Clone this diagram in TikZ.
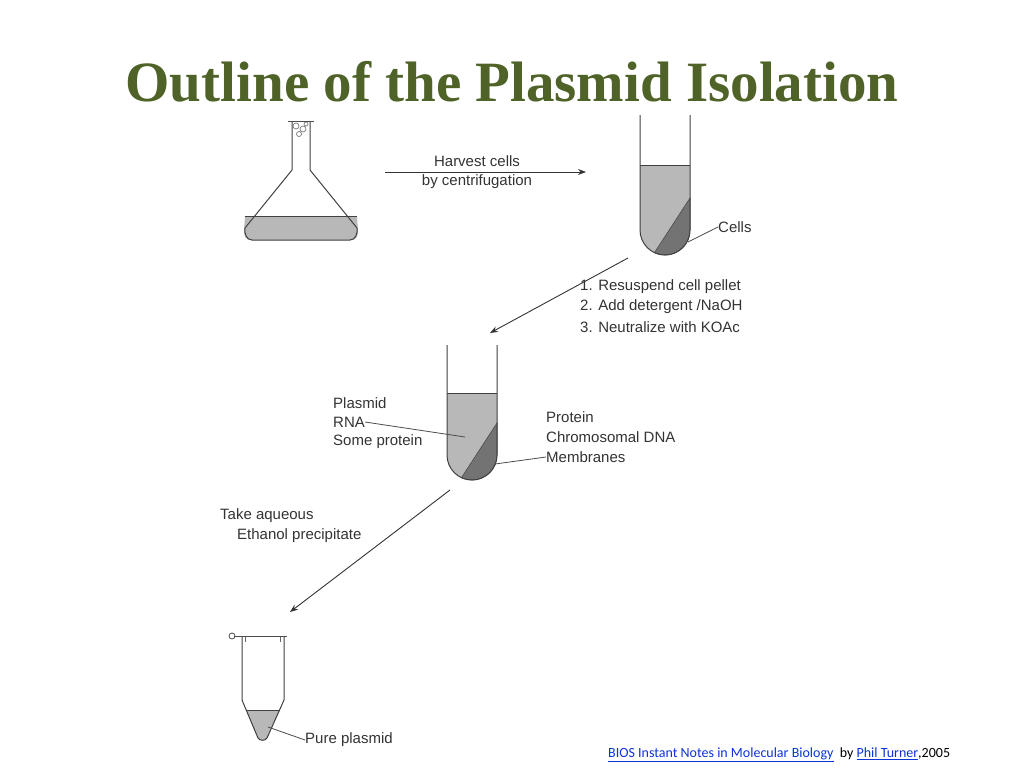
\documentclass[tikz,border=0pt]{standalone}
\usepackage{fontspec}
\usetikzlibrary{arrows.meta}
\setmainfont{Liberation Serif}
\newfontfamily\lab{Liberation Sans}
\newfontfamily\foot{Carlito}
\begin{document}
\begin{tikzpicture}[x=1pt,y=-1pt,
  lbl/.style={font=\lab\fontsize{15}{17}\selectfont,text=black!80,inner sep=0pt},
  arr/.style={draw=black!80,line width=0.9pt,-{Stealth[length=8pt,width=6pt]}},
  glass/.style={draw=black!75,line width=1pt},
  liq/.style={fill=black!28},
  pel/.style={fill=black!55,draw=black!70,line width=0.6pt},
  lead/.style={draw=black!70,line width=0.8pt}]
\useasboundingbox (0,0) rectangle (1024,768);
\node[font=\bfseries\fontsize{57}{66}\selectfont,text={rgb,255:red,79;green,98;blue,40}] (title) at (512,82) {Outline of the Plasmid Isolation};
% flask
\fill[liq] (245,216) -- (357,216) -- (358,232) to[out=-90,in=0] (352,240) -- (250,240) to[out=180,in=-90] (244,232) -- cycle;
\draw[glass] (292,122) -- (292,170) -- (245,228) to[out=-100,in=180] (252,240) -- (350,240) to[out=0,in=-80] (357,228) -- (310,170) -- (310,122);
\draw[glass] (245,216) -- (357,216);
\draw[black!70] (288,121) -- (314,121);
\draw[black!60,line width=0.6pt] (296,126) circle (3) (303,129) circle (3) (299,134) circle (2.5) (306,124) circle (2);
\node[lbl] (hc) at (477,161) {Harvest cells};
\node[lbl] (bc) at (477,182) {by centrifugation};
\coordinate (a1s) at (385,172); \coordinate (a1e) at (586,172);
\draw[arr] (a1s) -- (a1e);
% tube 1
\fill[liq] (640,165) -- (690,165) -- (690,230) arc (0:180:25) -- cycle;
\fill[pel] (690,198) -- (690,230) arc (0:115:25) -- cycle;
\draw[glass] (640,115) -- (640,230) arc (180:0:25) -- (690,115);
\draw[glass] (640,165) -- (690,165);
\node[lbl,anchor=west] (cells) at (718,227) {Cells};
\draw[lead] (688,242) -- (cells.west);
\coordinate (a2s) at (628,258); \coordinate (a2e) at (490,333);
\draw[arr] (a2s) -- (a2e);
\node[lbl,anchor=west] (s1) at (580,287) {1. Resuspend cell pellet};
\node[lbl,anchor=west] (s2) at (580,307) {2. Add detergent /NaOH};
\node[lbl,anchor=west] (s3) at (580,327) {3. Neutralize with KOAc};
% tube 2
\fill[liq] (447,393) -- (497,393) -- (497,455) arc (0:180:25) -- cycle;
\fill[pel] (497,423) -- (497,455) arc (0:115:25) -- cycle;
\draw[glass] (447,345) -- (447,455) arc (180:0:25) -- (497,345);
\draw[glass] (447,393) -- (497,393);
\node[lbl,anchor=west] (pl) at (333,403) {Plasmid};
\node[lbl,anchor=west] (rna) at (333,422) {RNA};
\node[lbl,anchor=west] (sp) at (333,442) {Some protein};
\coordinate (rnaend) at (465,437);
\draw[lead] (rna.east) -- (rnaend);
\node[lbl,anchor=west] (pr) at (546,417) {Protein};
\node[lbl,anchor=west] (cd) at (546,437) {Chromosomal DNA};
\node[lbl,anchor=west] (mb) at (546,457) {Membranes};
\coordinate (mbend) at (495,464);
\draw[lead] (mb.west) -- (mbend);
\coordinate (a3s) at (450,490); \coordinate (a3e) at (290,612);
\draw[arr] (a3s) -- (a3e);
\node[lbl,anchor=west] (ta) at (220,516) {Take aqueous};
\node[lbl,anchor=west] (ep) at (237,536) {Ethanol precipitate};
% eppendorf
\fill[liq] (246,710) -- (280,710) -- (267,738) to[out=-120,in=-60] (258,738) -- cycle;
\draw[glass] (242,637) -- (242,700) -- (258,738) to[out=-60,in=-120] (267,738) -- (284,700) -- (284,637);
\draw[glass] (246,710) -- (280,710);
\draw[black!70,line width=0.9pt] (234,636) -- (287,636);
\draw[black!70,line width=0.8pt] (232,636) circle (3);
\draw[black!60,line width=0.5pt] (245,637) -- (245,642) (280,637) -- (280,642);
\node[lbl,anchor=west] (pp) at (305,740) {Pure plasmid};
\coordinate (ppend) at (268,727);
\draw[lead] (pp.west) -- (ppend);
% footer
\node[anchor=west,inner sep=0pt,font=\foot\fontsize{14}{16}\selectfont] (foot) at (608,755)
 {\textcolor[rgb]{0.05,0.2,0.85}{\underline{BIOS Instant Notes in Molecular Biology}}\ \ by \textcolor[rgb]{0.05,0.2,0.85}{\underline{Phil Turner}},2005};
\end{tikzpicture}
\end{document}
